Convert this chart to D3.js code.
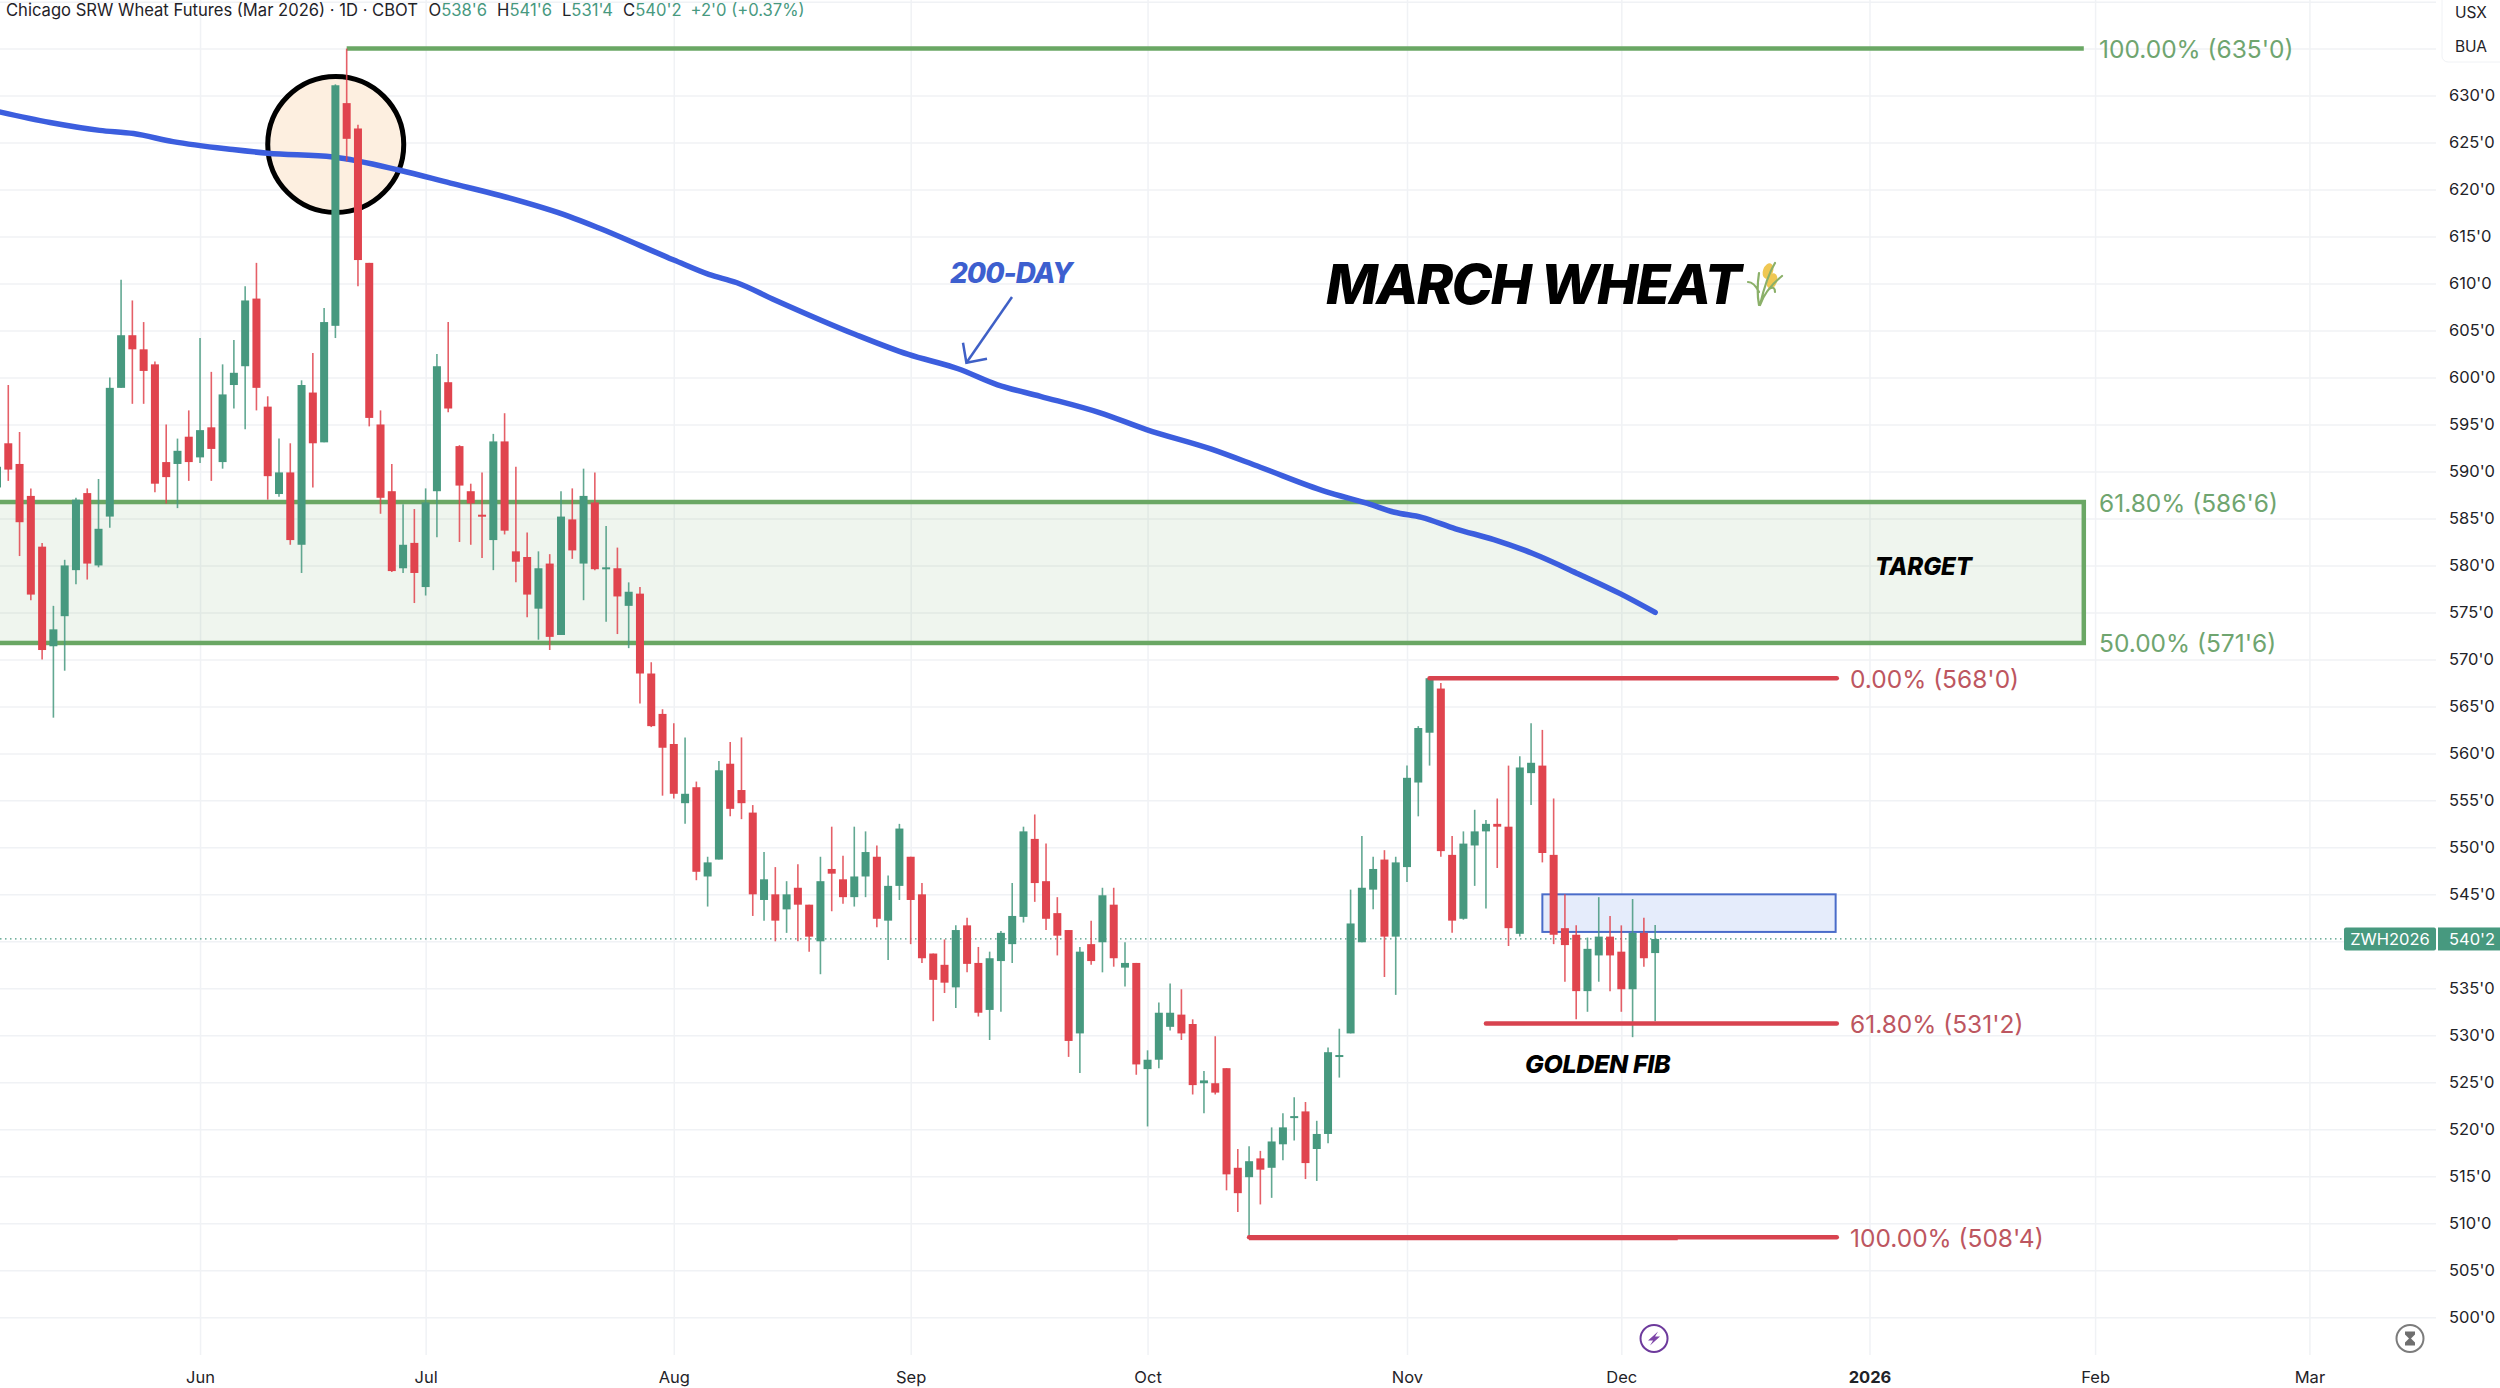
<!DOCTYPE html>
<html>
<head>
<meta charset="utf-8">
<title>March Wheat</title>
<script src="https://cdn.jsdelivr.net/npm/d3@7"></script>
<style>
  html, body { margin: 0; background: #fff; }
  svg { display: block; }
  text { font-family: Inter, "Noto Sans", sans-serif; }
</style>
</head>
<body>
<div id="graf"></div>
<script>
// -- Daily candles, one entry per session (price in cents)
const openP = [
  588.3,593.0,590.8,587.4,582.0,571.4,574.6,579.5,587.7,580.0,
  585.2,598.9,604.5,603.0,601.4,591.0,590.8,593.7,591.5,594.7,
  591.0,599.2,601.2,608.4,596.9,587.6,589.9,582.2,598.4,593.1,
  605.5,629.2,626.5,612.2,595.0,587.9,579.7,582.4,577.7,587.9,
  599.5,592.7,587.9,585.4,582.7,593.2,581.5,580.9,575.4,580.2,
  572.6,584.9,580.2,586.7,579.7,579.7,575.7,577.0,568.5,564.2,
  561.0,554.7,556.4,546.9,548.7,558.9,556.1,553.7,544.4,545.0,
  543.4,545.7,543.9,540.0,547.7,546.6,544.7,546.9,549.0,542.2,
  545.9,549.0,545.0,538.7,537.5,535.1,541.7,537.7,532.7,537.9,
  539.7,542.6,550.9,546.4,543.0,541.2,530.2,539.7,539.9,543.9,
  537.2,537.7,526.4,527.4,530.9,532.2,531.2,524.9,524.9,526.5,
  515.9,514.9,516.9,515.9,518.4,521.2,521.9,517.9,519.5,527.7,
  530.2,539.9,545.5,548.7,540.5,547.9,556.9,562.2,566.9,549.2,
  542.4,550.2,551.7,552.5,552.2,540.8,557.9,558.7,549.2,541.4,
  540.7,534.7,538.5,540.5,538.9,534.9,540.9,538.75]
const closeP = [
  590.5,590.2,584.6,576.9,571.0,573.2,580.0,587.0,580.2,583.9,
  598.9,604.5,603.0,600.7,588.7,589.4,592.2,591.0,594.4,592.4,
  598.2,600.5,608.2,598.9,589.5,589.9,582.7,599.2,593.0,605.9,
  631.1,625.4,612.5,595.7,587.2,579.4,582.2,579.2,586.7,601.2,
  596.7,588.5,586.6,585.2,593.2,583.7,580.4,576.9,579.7,572.4,
  585.2,581.6,587.4,579.6,579.8,576.7,577.2,568.5,562.9,560.6,
  555.7,555.7,547.4,548.4,558.2,554.1,554.7,545.0,546.6,542.2,
  545.0,543.9,540.5,546.4,547.2,544.7,546.9,549.5,542.4,545.9,
  552.0,544.4,538.2,535.9,535.6,541.2,537.6,532.4,538.2,540.9,
  542.7,551.7,546.2,542.4,540.6,529.4,538.9,537.9,544.9,538.2,
  537.7,526.9,527.4,532.4,532.4,530.2,524.7,525.2,523.9,515.2,
  513.2,516.6,515.7,518.7,520.2,521.4,516.4,519.5,528.2,527.9,
  541.9,545.7,547.7,540.5,548.4,557.4,562.7,568.0,549.6,542.2,
  550.4,551.7,552.5,552.2,541.4,558.5,559.0,549.4,540.7,539.6,
  534.7,539.2,540.5,538.5,534.9,540.9,538.2,540.25]
const highP = [
  591.0,599.2,594.2,588.2,582.4,575.7,580.6,587.2,588.2,589.2,
  600.0,610.4,608.2,605.9,601.7,595.0,593.5,596.5,604.2,600.6,
  601.4,604.0,609.7,612.2,598.0,593.5,593.0,599.7,602.6,607.4,
  631.2,635.0,626.9,612.2,596.5,590.8,586.5,586.0,588.2,602.5,
  605.9,592.8,588.7,589.9,594.0,596.2,590.5,583.5,581.5,581.2,
  587.9,588.2,590.3,589.9,584.2,581.9,578.2,577.7,569.7,564.7,
  563.2,561.7,557.0,549.0,559.2,561.2,561.7,554.5,549.5,547.9,
  546.4,548.2,543.9,549.0,552.2,549.1,552.2,551.7,550.2,547.0,
  552.5,549.0,546.2,538.7,540.2,541.7,542.5,539.4,538.9,541.1,
  546.2,552.2,553.5,550.4,544.7,541.2,539.4,542.2,545.7,545.7,
  539.9,537.7,528.4,533.5,535.5,534.9,531.7,526.2,529.9,526.5,
  517.9,518.2,517.7,520.2,521.7,523.4,522.9,520.9,528.7,530.7,
  545.5,551.2,549.0,549.7,549.0,558.7,562.9,568.0,567.5,551.2,
  551.7,554.0,552.9,555.2,558.7,559.7,563.2,562.5,555.2,545.0,
  541.7,540.4,544.7,542.7,541.7,544.5,542.5,541.75]
const lowP = [
  587.5,589.0,581.0,576.3,570.0,563.8,568.8,578.0,578.5,579.8,
  584.0,598.9,597.2,597.2,587.8,586.6,586.1,589.0,590.9,589.0,
  590.3,596.7,594.5,596.5,587.0,587.3,582.2,579.2,588.3,593.1,
  604.2,623.0,609.7,594.8,585.5,579.3,579.2,576.0,576.8,583.0,
  596.3,582.5,582.2,580.8,579.5,583.3,578.2,574.5,572.1,571.0,
  572.6,580.7,576.3,579.5,574.0,572.7,571.2,565.3,562.8,555.5,
  555.2,552.5,546.5,543.7,548.7,553.3,553.0,542.7,542.2,540.0,
  540.9,540.0,538.9,536.5,543.2,544.0,543.7,544.7,541.5,538.0,
  544.4,539.7,537.7,531.5,534.5,532.9,536.7,532.0,529.5,532.5,
  537.7,542.0,544.2,541.2,538.5,527.7,526.0,537.5,536.7,537.3,
  535.2,525.8,520.3,526.5,530.5,529.5,523.7,521.7,523.7,513.5,
  511.2,508.5,512.0,512.7,516.7,518.8,514.7,514.5,518.5,525.5,
  530.2,539.9,543.4,536.2,534.3,546.3,553.3,558.7,549.0,540.9,
  542.3,545.9,543.5,547.8,539.5,540.5,554.5,548.4,539.7,535.7,
  531.7,532.5,535.7,534.7,532.5,529.8,537.3,531.5]

// -- 200-day average
const maIdx = [-1,4.7,9.1,12.1,15.6,20.9,24,29.8,35.7,40.2,44.6,50.7,53.3,60,63.1,65.6,68.8,76.1,80.8,85.2,88.7,92.5,97.8,101.9,107.6,112,117.8,121.5,123.9,126.3,129.3,132.7,136.1,140.2,143.9,147]
const maVal = [628.6,627.14,626.3,625.96,625.1,624.26,623.87,623.47,622.06,620.69,619.37,617.15,615.94,612.5,610.97,610.08,608.34,604.58,602.45,600.93,599.22,598.0,596.24,594.46,592.4,590.45,587.86,586.6,585.66,585.12,583.9,582.75,581.3,579.1,577.0,575.0]

// -- Axis
const monthIdx = [18,38,60,81,102,125,144,166,186,205]
const monthLbl = ['Jun','Jul','Aug','Sep','Oct','Nov','Dec','2026','Feb','Mar']
const gridPrices = d3.range(500, 641, 5)
const axisPrices = d3.range(500, 631, 5).filter(d => d != 540)

// -- Fib levels and zones
const greenPrices = [635, 586.75, 571.75]
const greenLabels = ["100.00% (635'0)", "61.80% (586'6)", "50.00% (571'6)"]
const redPrices = [568, 531.25, 508.5]
const redLabels = ["0.00% (568'0)", "61.80% (531'2)", "100.00% (508'4)"]
const redFrom = [127, 132, 111]
const lastPrice = 540.25

// -- Canvas
const ancho_total = 2500
const alto_total = 1388
const plotRight = 2436
const plotBottom = 1355

const svg = d3.select('#graf').append('svg')
    .attr('width', ancho_total)
    .attr('height', alto_total)

// -- Scales: bar number on x, price on y
const x = d3.scaleLinear().domain([0, 205]).range([-3, 2309.4])
const y = d3.scaleLinear().domain([500, 630]).range([1317.2, 95.6])

const colGreen = '#47997f'
const colRed = '#e0444e'
const colBlue = '#3c5ede'
const colFibGreen = '#6aa764'
const colFibRed = '#d8434f'

// -- Grid
const gridY = svg.append('g')
    .call(d3.axisRight(y).tickValues(gridPrices).tickSize(plotRight).tickFormat(''))
const gridX = svg.append('g')
    .attr('transform', `translate(0,${plotBottom})`)
    .call(d3.axisBottom(x).tickValues(monthIdx).tickSize(-plotBottom).tickFormat(''))
gridY.select('.domain').remove()
gridX.select('.domain').remove()
svg.selectAll('.tick line').attr('stroke', '#f0f2f5').attr('stroke-width', 1.5)

// -- Target zone
svg.append('rect')
    .attr('x', x(-5))
    .attr('y', y(greenPrices[1]))
    .attr('width', x(185) - x(-5))
    .attr('height', y(greenPrices[2]) - y(greenPrices[1]))
    .attr('fill', colFibGreen)
    .attr('fill-opacity', 0.11)
    .attr('stroke', colFibGreen)
    .attr('stroke-width', 4.5)

svg.append('line')
    .attr('x1', x(31)).attr('x2', x(185))
    .attr('y1', y(greenPrices[0])).attr('y2', y(greenPrices[0]))
    .attr('stroke', colFibGreen)
    .attr('stroke-width', 4.5)

// -- Resistance box
svg.append('rect')
    .attr('x', x(137))
    .attr('y', y(545))
    .attr('width', x(163) - x(137))
    .attr('height', y(541) - y(545))
    .attr('fill', '#e5ecfb')
    .attr('stroke', '#4a6cc9')
    .attr('stroke-width', 2)

// -- Circle on the spike
svg.append('circle')
    .attr('cx', x(30.03))
    .attr('cy', y(624.8))
    .attr('r', 68)
    .attr('fill', '#fdefe0')
    .attr('stroke', '#000')
    .attr('stroke-width', 5)

// -- Last price line
svg.append('line')
    .attr('x1', 0).attr('x2', 2344)
    .attr('y1', y(lastPrice)).attr('y2', y(lastPrice))
    .attr('stroke', colGreen)
    .attr('stroke-width', 1.2)
    .attr('stroke-dasharray', '1.5 3.5')

// -- 200-day line
const maLine = d3.line()
    .x(d => x(d))
    .y((d, i) => y(maVal[i]))
    .curve(d3.curveMonotoneX)
svg.append('path')
    .attr('d', maLine(maIdx))
    .attr('fill', 'none')
    .attr('stroke', colBlue)
    .attr('stroke-width', 5.5)
    .attr('stroke-linecap', 'round')

// -- Candles
const bars = svg.append('g').selectAll('g')
    .data(openP.map((d, i) => i))
    .enter().append('g')
bars.append('line')
    .attr('x1', i => x(i)).attr('x2', i => x(i))
    .attr('y1', i => y(highP[i])).attr('y2', i => y(lowP[i]))
    .attr('stroke', i => closeP[i] >= openP[i] ? colGreen : colRed)
    .attr('stroke-width', 1.6)
    .attr('stroke-opacity', 0.85)
bars.append('rect')
    .attr('x', i => x(i) - 4)
    .attr('y', i => y(Math.max(openP[i], closeP[i])))
    .attr('width', 8)
    .attr('height', i => Math.max(2, Math.abs(y(openP[i]) - y(closeP[i]))))
    .attr('fill', i => closeP[i] >= openP[i] ? colGreen : colRed)

// -- Red fib lines, over the candles
svg.append('g').selectAll('line')
    .data(redPrices)
    .enter().append('line')
    .attr('x1', (d, i) => x(redFrom[i]))
    .attr('x2', x(163.1))
    .attr('y1', d => y(d))
    .attr('y2', d => y(d))
    .attr('stroke', colFibRed)
    .attr('stroke-width', 4.5)
    .attr('stroke-linecap', 'round')
// the first fib drawing stops short and doubles the lower line
svg.append('line')
    .attr('x1', x(111)).attr('x2', x(149))
    .attr('y1', y(redPrices[2]) + 0.6).attr('y2', y(redPrices[2]) + 0.6)
    .attr('stroke', colFibRed)
    .attr('stroke-width', 4.5)

// -- Fib labels
svg.append('g').selectAll('text')
    .data(greenLabels)
    .enter().append('text')
    .attr('x', 2099)
    .attr('y', (d, i) => y(greenPrices[i]) + 9.5)
    .attr('font-size', 24.5)
    .attr('fill', '#6fa56f')
    .text(d => d)
svg.append('g').selectAll('text')
    .data(redLabels)
    .enter().append('text')
    .attr('x', 1850)
    .attr('y', (d, i) => y(redPrices[i]) + 9.5)
    .attr('font-size', 24.5)
    .attr('fill', '#bd5660')
    .text(d => d)

// -- Handwritten notes
function nota (txt, px, py, size, color, spacing) {
    svg.append('text')
        .attr('x', px)
        .attr('y', py)
        .attr('font-size', size)
        .attr('font-weight', 800)
        .attr('font-style', 'italic')
        .attr('letter-spacing', spacing)
        .attr('fill', color)
        .text(txt)
}
nota('MARCH WHEAT', 1326, 304, 55, '#000', -1.7)
nota('TARGET', 1875, 575, 24, '#000', -0.1)
nota('GOLDEN FIB', 1525, 1073, 25, '#000', -0.35)
nota('200-DAY', 950, 283, 28, '#3d5fcf', -1)

// -- Arrow to the 200-day
const arrow = svg.append('g')
    .attr('fill', 'none')
    .attr('stroke', '#3f60c6')
    .attr('stroke-width', 2.5)
arrow.append('path').attr('d', 'M1012,297L966.4,362.7')
arrow.append('path').attr('d', 'M963,342.7L966.4,362.7L987,358.7')

// -- Wheat icon
const wheat = svg.append('g').attr('transform', 'translate(1747,262)')
wheat.append('ellipse').attr('cx', 21).attr('cy', 9).attr('rx', 5).attr('ry', 8).attr('transform', 'rotate(20 21 9)').attr('fill', '#efc753')
wheat.append('ellipse').attr('cx', 25).attr('cy', 19).attr('rx', 5).attr('ry', 8).attr('transform', 'rotate(20 25 19)').attr('fill', '#efc753')
wheat.append('path')
    .attr('d', 'M12,43C10,32 10,24 12,11M13,43C16,30 20,14 28,1M13,43C17,32 25,22 35,14M12,30C9,24 6,20 1,20M22,27C27,24 28,27 28,30')
    .attr('fill', 'none')
    .attr('stroke', '#8bb069')
    .attr('stroke-width', 2.2)
    .attr('stroke-linecap', 'round')

// -- Price axis
const ejeY = svg.append('g')
    .attr('transform', 'translate(2449,0)')
    .call(d3.axisRight(y).tickValues(axisPrices).tickSize(0).tickPadding(0).tickFormat(d => d + "'0"))
ejeY.select('.domain').remove()
ejeY.selectAll('text')
    .attr('font-size', 16.5)
    .attr('font-family', 'Inter')
    .attr('fill', '#1f2328')

// -- Time axis
const ejeX = svg.append('g')
    .attr('transform', 'translate(0,1355)')
    .call(d3.axisBottom(x).tickValues(monthIdx).tickSize(0).tickPadding(16).tickFormat((d, i) => monthLbl[i]))
ejeX.select('.domain').remove()
ejeX.selectAll('text')
    .attr('font-size', 16.5)
    .attr('font-family', 'Inter')
    .attr('font-weight', d => d == 166 ? 700 : 400)
    .attr('fill', '#1f2328')

// -- Last price tag
svg.append('rect')
    .attr('x', 2344).attr('y', y(lastPrice) - 11.5)
    .attr('width', 92).attr('height', 23)
    .attr('rx', 2).attr('fill', colGreen)
svg.append('rect')
    .attr('x', 2438).attr('y', y(lastPrice) - 11.5)
    .attr('width', 62).attr('height', 23)
    .attr('fill', colGreen)
svg.append('text')
    .attr('x', 2390).attr('y', y(lastPrice) + 6)
    .attr('text-anchor', 'middle')
    .attr('font-size', 16.5)
    .attr('fill', '#fff')
    .text('ZWH2026')
svg.append('text')
    .attr('x', 2472).attr('y', y(lastPrice) + 6)
    .attr('text-anchor', 'middle')
    .attr('font-size', 16.5)
    .attr('fill', '#fff')
    .text("540'2")

// -- Currency and unit buttons
svg.append('rect')
    .attr('x', 2442).attr('y', -6)
    .attr('width', 70).attr('height', 68)
    .attr('rx', 6)
    .attr('fill', '#fff')
    .attr('stroke', '#f0f2f5')
svg.append('text').attr('x', 2471).attr('y', 18).attr('text-anchor', 'middle').attr('font-size', 15.5).attr('fill', '#1f2328').text('USX')
svg.append('text').attr('x', 2471).attr('y', 52).attr('text-anchor', 'middle').attr('font-size', 15.5).attr('fill', '#1f2328').text('BUA')

// -- Bottom icons
const bolt = svg.append('g').attr('transform', `translate(${x(146.9)},1338.5)`)
bolt.append('circle').attr('r', 13.5).attr('fill', 'none').attr('stroke', '#6d3a9c').attr('stroke-width', 2)
bolt.append('path').attr('d', 'M4,-7L-6,2L-1,2L-4,7L6,-2L1,-2Z').attr('fill', '#7d45a8')

const reloj = svg.append('g').attr('transform', 'translate(2410,1338.5)')
reloj.append('circle').attr('r', 13.5).attr('fill', 'none').attr('stroke', '#7c7c7c').attr('stroke-width', 2)
reloj.append('path').attr('d', 'M-5,-7H5V-4L1,0L5,4V7H-5V4L-1,0L-5,-4Z').attr('fill', '#6f6f6f')

// -- Header
const head = svg.append('text')
    .attr('x', 6)
    .attr('y', 16)
    .attr('font-size', 16.6)
    .attr('fill', '#1f2328')
head.append('tspan').text('Chicago SRW Wheat Futures (Mar 2026) · 1D · CBOT')
const ohlcTag = ['O', 'H', 'L', 'C']
const ohlcVal = ["538'6", "541'6", "531'4", "540'2"]
ohlcTag.forEach((t, i) => {
    head.append('tspan').attr('dx', i == 0 ? 11 : 10).text(t)
    head.append('tspan').attr('fill', colGreen).text(ohlcVal[i])
})
head.append('tspan').attr('dx', 9).attr('fill', colGreen).text("+2'0 (+0.37%)")
</script>
</body>
</html>
